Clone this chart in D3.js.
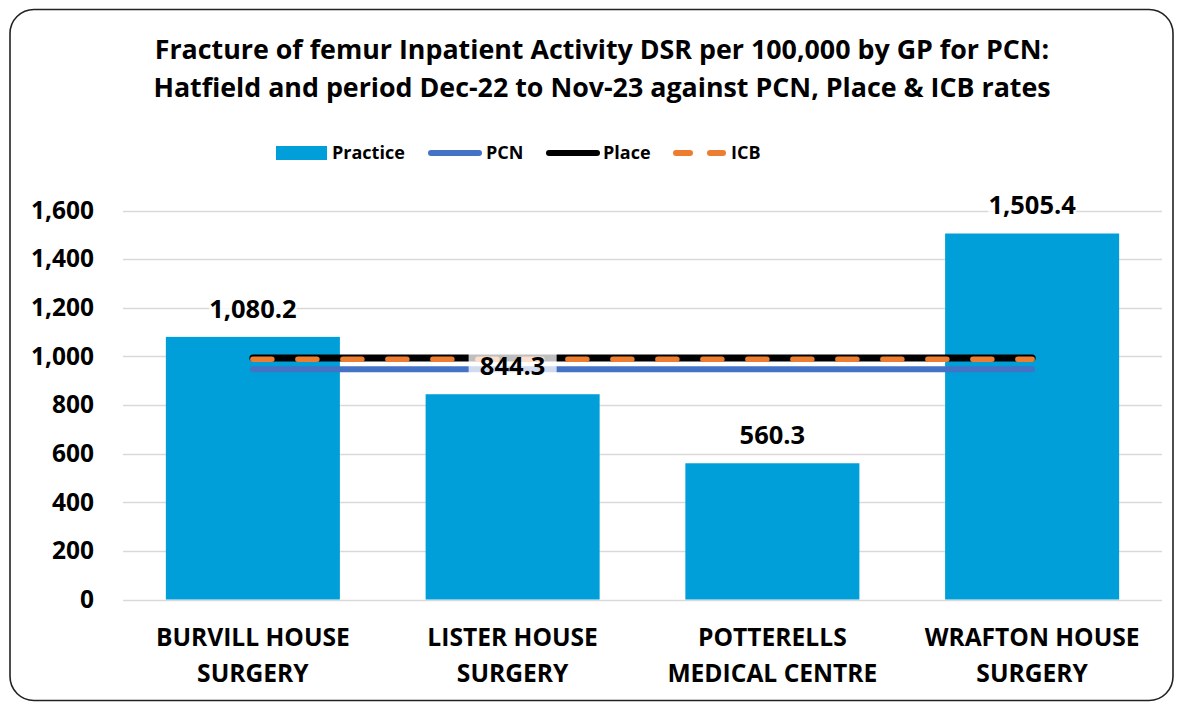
<!DOCTYPE html>
<html>
<head>
<meta charset="utf-8">
<script src="https://cdn.jsdelivr.net/npm/d3@7"></script>
<style>
  body { margin: 0; background: #fff; }
  text { font-family: "Open Sans", Lato, sans-serif; font-weight: bold; fill: #000; }
</style>
</head>
<body>
<div id="chart"></div>
<script>
// data
const practices = [
  ["BURVILL HOUSE", "SURGERY"],
  ["LISTER HOUSE", "SURGERY"],
  ["POTTERELLS", "MEDICAL CENTRE"],
  ["WRAFTON HOUSE", "SURGERY"]
];
const practiceValues = [1080.2, 844.3, 560.3, 1505.4];
const pcnValues = [947, 947, 947, 947];
const placeValues = [993, 993, 993, 993];
const icbValues = [988, 988, 988, 988];
const yTicks = [0, 200, 400, 600, 800, 1000, 1200, 1400, 1600];
const titleLines = [
  "Fracture of femur Inpatient Activity DSR per 100,000 by GP for PCN:",
  "Hatfield and period Dec-22 to Nov-23 against PCN, Place & ICB rates"
];

const W = 1178, H = 704;
const svg = d3.select("#chart").append("svg")
  .attr("width", W).attr("height", H);

// chart frame
svg.append("rect")
  .attr("x", 10).attr("y", 9.5)
  .attr("width", 1163).attr("height", 691)
  .attr("rx", 24)
  .attr("fill", "#fff")
  .attr("stroke", "#222")
  .attr("stroke-width", 1.6);

// title
svg.selectAll("text.title").data(titleLines).enter()
  .append("text")
    .attr("class", "title")
    .attr("x", 602)
    .attr("y", (d, i) => 50 + i * 38)
    .attr("dy", "0.35em")
    .attr("text-anchor", "middle")
    .style("font-size", "26.8px")
    .text(d => d);

const x = d3.scaleBand()
  .domain(d3.range(practices.length))
  .range([123, 1162])
  .paddingInner(0.33)
  .paddingOuter(0.165);

const y = d3.scaleLinear()
  .domain([0, 1600])
  .range([599.5, 210.5]);

// gridlines
svg.append("g").selectAll("line").data(yTicks).enter()
  .append("line")
    .attr("x1", 123).attr("x2", 1162)
    .attr("y1", d => Math.round(y(d)) + 0.5)
    .attr("y2", d => Math.round(y(d)) + 0.5)
    .attr("stroke", "#d9d9d9")
    .attr("stroke-width", 1.5);

// y axis labels
const yAxis = svg.append("g")
  .attr("transform", "translate(123,0)")
  .call(d3.axisLeft(y).tickValues(yTicks).tickSize(0).tickPadding(29)
    .tickFormat(d3.format(",")));
yAxis.select(".domain").remove();
yAxis.selectAll("text").style("font-size", "24.5px")
  .style("font-family", "'Open Sans', Lato, sans-serif");

// bars
svg.append("g").selectAll("rect").data(practiceValues).enter()
  .append("rect")
    .attr("x", (d, i) => x(i))
    .attr("y", d => y(d))
    .attr("width", x.bandwidth())
    .attr("height", d => y(0) - y(d))
    .attr("fill", "#009fd9");

// reference lines
const cx = i => x(i) + x.bandwidth() / 2;
const lineGen = d3.line().x((d, i) => cx(i)).y(d => y(d));

svg.append("path").datum(pcnValues)
  .attr("d", lineGen)
  .attr("fill", "none")
  .attr("stroke", "#4472c4")
  .attr("stroke-width", 6)
  .attr("stroke-linecap", "round");

svg.append("path").datum(placeValues)
  .attr("d", lineGen)
  .attr("fill", "none")
  .attr("stroke", "#000")
  .attr("stroke-width", 7)
  .attr("stroke-linecap", "round");

svg.append("path").datum(icbValues)
  .attr("d", lineGen)
  .attr("fill", "none")
  .attr("stroke", "#ed7d31")
  .attr("stroke-width", 5.5)
  .attr("stroke-dasharray", "19,26")
  .attr("stroke-linecap", "round");

// value labels
const labels = svg.append("g").selectAll("g").data(practiceValues).enter()
  .append("g")
    .attr("transform", (d, i) => `translate(${cx(i)},${y(d) - 28})`);
labels.append("rect")
  .attr("x", -44).attr("y", -13)
  .attr("width", 88).attr("height", 22)
  .attr("fill", "#fff")
  .attr("fill-opacity", 0.75);
labels.append("text")
  .attr("text-anchor", "middle")
  .attr("dy", "0.35em")
  .style("font-size", "25.5px")
  .text(d => d3.format(",.1f")(d));

// x labels
const xl = svg.append("g").selectAll("text").data(practices).enter()
  .append("text")
    .attr("text-anchor", "middle")
    .attr("x", (d, i) => cx(i))
    .style("font-size", "24.6px");
xl.selectAll("tspan").data(d => d).enter()
  .append("tspan")
    .attr("x", function() { return d3.select(this.parentNode).attr("x"); })
    .attr("y", (d, i) => 637 + i * 36)
    .attr("dy", "0.35em")
    .text(d => d);

// legend
const leg = svg.append("g");
leg.append("rect").attr("x", 276).attr("y", 146).attr("width", 51).attr("height", 14)
  .attr("fill", "#009fd9");
leg.append("line").attr("x1", 431).attr("x2", 479).attr("y1", 153).attr("y2", 153)
  .attr("stroke", "#4472c4").attr("stroke-width", 6).attr("stroke-linecap", "round");
leg.append("line").attr("x1", 549).attr("x2", 597).attr("y1", 153).attr("y2", 153)
  .attr("stroke", "#000").attr("stroke-width", 6).attr("stroke-linecap", "round");
leg.append("line").attr("x1", 676).attr("x2", 723).attr("y1", 153).attr("y2", 153)
  .attr("stroke", "#ed7d31").attr("stroke-width", 6).attr("stroke-linecap", "round")
  .attr("stroke-dasharray", "14,20");
const legendItems = [["Practice", 332], ["PCN", 486], ["Place", 603], ["ICB", 731]];
leg.selectAll("text").data(legendItems).enter()
  .append("text")
    .attr("x", d => d[1])
    .attr("y", 153)
    .attr("dy", "0.35em")
    .style("font-size", "18px")
    .text(d => d[0]);
</script>
</body>
</html>
